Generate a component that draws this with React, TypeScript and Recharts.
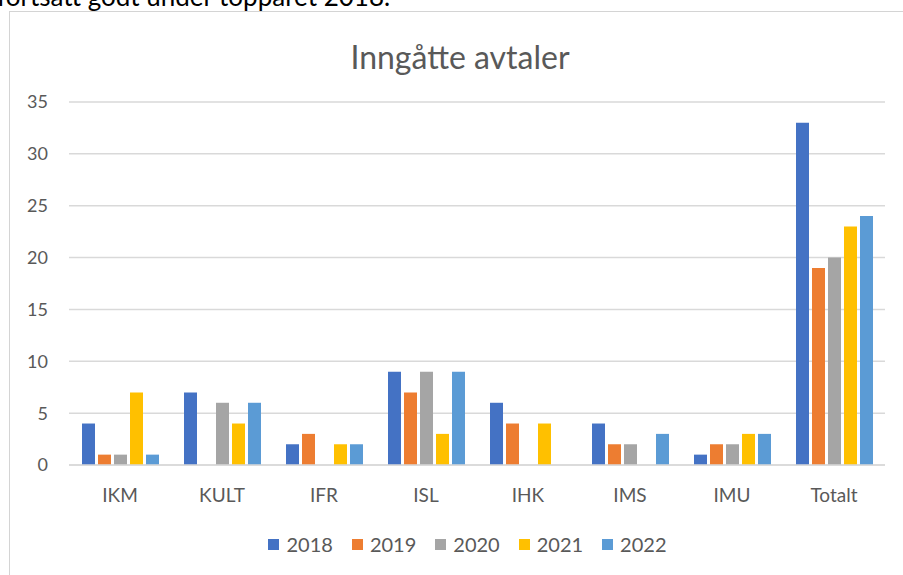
import { Bar, BarChart, CartesianGrid, Legend, XAxis, YAxis } from "recharts";

const categories = ["IKM", "KULT", "IFR", "ISL", "IHK", "IMS", "IMU", "Totalt"];
const years = ["2018", "2019", "2020", "2021", "2022"];
const values2018 = [4, 7, 2, 9, 6, 4, 1, 33];
const values2019 = [1, 0, 3, 7, 4, 2, 2, 19];
const values2020 = [1, 6, 0, 9, 0, 2, 2, 20];
const values2021 = [7, 4, 2, 3, 4, 0, 3, 23];
const values2022 = [1, 6, 2, 9, 0, 3, 3, 24];
const yTicks = [0, 5, 10, 15, 20, 25, 30, 35];

const colors = ["#4472C4", "#ED7D31", "#A5A5A5", "#FFC000", "#5B9BD5"];
const font = "Lato, 'Open Sans', sans-serif";
const textGray = "#595959";

const data = categories.map((c, i) => ({
  name: c,
  "2018": values2018[i],
  "2019": values2019[i],
  "2020": values2020[i],
  "2021": values2021[i],
  "2022": values2022[i],
}));

function LegendRow({ payload }: any) {
  return (
    <div style={{ display: "flex", justifyContent: "center", gap: 19, height: 24 }}>
      {(payload || []).map((p: any) => (
        <div key={p.value} style={{ display: "flex", alignItems: "center" }}>
          <span
            style={{ width: 11, height: 11, background: p.color, marginRight: 7, display: "inline-block" }}
          />
          <span style={{ fontSize: 20, color: textGray, fontFamily: font }}>{p.value}</span>
        </div>
      ))}
    </div>
  );
}

export default function App() {
  return (
    <div
      style={{
        position: "fixed",
        left: 0,
        top: 0,
        width: 903,
        height: 575,
        overflow: "hidden",
        background: "#fff",
        fontFamily: font,
      }}
    >
      <div
        style={{
          position: "absolute",
          left: -3,
          top: -19,
          fontSize: 26,
          lineHeight: "30px",
          color: "#000",
          whiteSpace: "nowrap",
        }}
      >
        fortsatt godt under toppåret 2018.
      </div>
      <div
        style={{
          position: "absolute",
          left: 9,
          top: 11,
          width: 910,
          height: 600,
          borderTop: "1.5px solid #d4d4d4",
          borderLeft: "1.5px solid #d4d4d4",
        }}
      />
      <div
        style={{
          position: "absolute",
          left: 0,
          width: 903,
          top: 37,
          textAlign: "center",
          paddingLeft: 17,
          boxSizing: "border-box",
          fontSize: 32,
          color: textGray,
        }}
      >
        Inngåtte avtaler
      </div>
      <div style={{ position: "absolute", left: 0, top: 0 }}>
        <BarChart
          width={903}
          height={575}
          data={data}
          margin={{ top: 102, right: 18, bottom: 46, left: 9 }}
          barGap={3}
          barCategoryGap={13}
        >
          <CartesianGrid vertical={false} stroke="#d9d9d9" strokeWidth={1.5} />
          <YAxis
            domain={[0, 35]}
            ticks={yTicks}
            width={60}
            axisLine={false}
            tickLine={false}
            tickMargin={15}
            tick={{ fill: textGray, fontSize: 18, fontFamily: font }}
          />
          <XAxis
            dataKey="name"
            axisLine={{ stroke: "#d9d9d9", strokeWidth: 1.5 }}
            tickLine={false}
            tickMargin={18}
            height={40}
            tick={{ fill: textGray, fontSize: 19, fontFamily: font }}
          />
          <Legend
            verticalAlign="bottom"
            content={<LegendRow />}
            wrapperStyle={{ top: 532, left: 0, width: 903, paddingLeft: 16 }}
          />
          {years.map((y, i) => (
            <Bar key={y} dataKey={y} fill={colors[i]} isAnimationActive={false} />
          ))}
        </BarChart>
      </div>
    </div>
  );
}
